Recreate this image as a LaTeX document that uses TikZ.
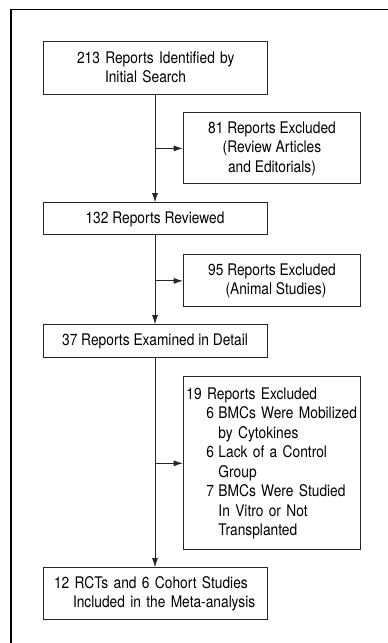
\documentclass[tikz,border=0pt]{standalone}
\usepackage{fontspec}
\setmainfont[FakeStretch=0.86]{TeX Gyre Heros}
\usetikzlibrary{positioning,arrows.meta}
\hyphenpenalty=10000

\begin{document}
\begin{tikzpicture}[node distance=13.5pt, thin,
    box/.style={draw=black!85, line width=0.7pt, inner sep=0pt,
      font=\fontsize{12}{14.6}\selectfont},
    main node/.style={box, minimum width=168pt, align=center},
    side node/.style={box, minimum width=132.75pt, align=center},
    arr/.style={draw=black!85, line width=0.7pt, -{Latex[length=7pt,width=4.5pt]}}]

    \useasboundingbox (0,0) rectangle (291pt,-482.25pt);
    % frame, cut off at the right and at the bottom
    \draw[line width=1pt] (8.25pt,-482.25pt) -- (8.25pt,-7.125pt) -- (291pt,-7.125pt);

    \node[main node, text width=168pt, align=left, minimum height=39.75pt] (1) at (116.25pt,-50.625pt)
      {\hspace*{25.5pt}213 Reports Identified by\\\hspace*{46.5pt}Initial Search};
    \node[side node, minimum height=53.25pt] (2) [below right=13.5pt and 21pt of 1.south]
      {81 Reports Excluded\\(Review Articles\\and Editorials)};
    \node[main node, minimum height=24pt] (3) [below=81pt of 1] {132 Reports Reviewed};
    \node[side node, minimum height=39pt] (4) [below right=14.25pt and 21pt of 3.south]
      {95 Reports Excluded\\\hspace*{6pt}(Animal Studies)};
    \node[main node, minimum height=24.75pt] (5) [below=66.75pt of 3] {37 Reports Examined in Detail};
    \node[side node, text width=128.25pt, inner xsep=2.25pt, align=left, minimum height=129.75pt] (6)
      [below right=13.5pt and 21pt of 5.south]
      {19 Reports Excluded\\
       \hspace*{15pt}\mbox{\makebox[9pt][l]{6}BMCs Were Mobilized}\\
       \hspace*{24pt}by Cytokines\\
       \hspace*{15pt}\makebox[9pt][l]{6}Lack of a Control\\
       \hspace*{24pt}Group\\
       \hspace*{15pt}\makebox[9pt][l]{7}BMCs Were Studied\\
       \hspace*{24pt}In Vitro or Not\\
       \hspace*{24pt}Transplanted};
    \node[main node, text width=168pt, align=left, minimum height=39pt] (7) [below=156.75pt of 5]
      {\hspace*{8.25pt}12 RCTs and 6 Cohort Studies\\\hspace*{22.5pt}Included in the Meta-analysis};

    \draw[arr] (1) -- (3);
    \draw[arr] (3) -- (5);
    \draw[arr] (5) -- (7);
    \draw[arr] (1 |- 2) -- (2);
    \draw[arr] (3 |- 4) -- (4);
    \draw[arr] (5 |- 6) -- (6);
\end{tikzpicture}
\end{document}
